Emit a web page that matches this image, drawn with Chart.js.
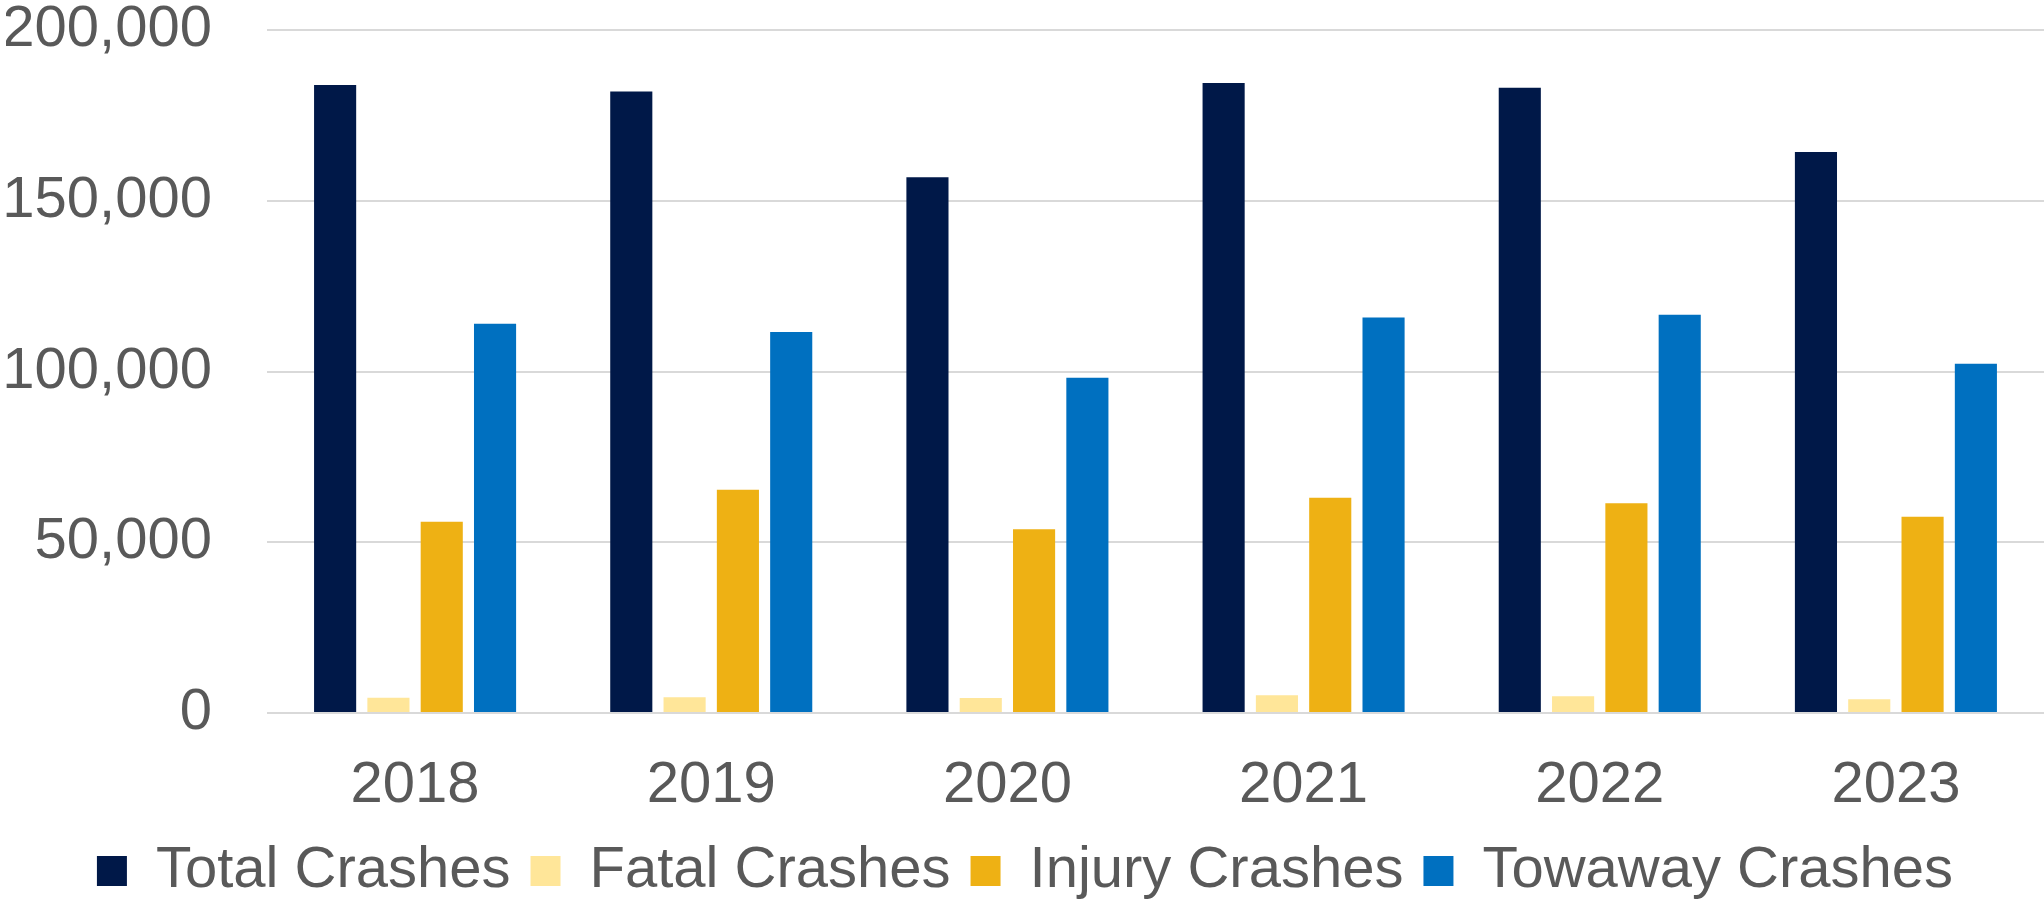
<!DOCTYPE html>
<html lang="en">
<head>
    <meta charset="UTF-8">
    <title>Crashes by Year</title>
    <script src="https://cdn.jsdelivr.net/npm/chart.js"></script>
    <style>
        body {
            margin: 0;
            background-color: #ffffff;
        }
        .chart-box {
            width: 2044px;
            height: 904px;
        }
    </style>
</head>
<body>
    <div class="chart-box">
        <canvas id="crashChart"></canvas>
    </div>
    <script>
        const years = ['2018', '2019', '2020', '2021', '2022', '2023'];
        const totalCrashes = [183900, 182000, 156900, 184500, 183100, 164300];
        const fatalCrashes = [4500, 4600, 4400, 5200, 4900, 4000];
        const injuryCrashes = [56000, 65400, 53800, 63000, 61400, 57500];
        const towawayCrashes = [114000, 111600, 98200, 115800, 116600, 102300];
        const yTicks = [0, 50000, 100000, 150000, 200000];

        const textColor = '#595959';
        const fontFamily = '"Liberation Sans", Arial, sans-serif';

        const ctx = document.getElementById('crashChart').getContext('2d');
        new Chart(ctx, {
            type: 'bar',
            data: {
                labels: years,
                datasets: [
                    { label: 'Total Crashes', data: totalCrashes, backgroundColor: '#001848' },
                    { label: 'Fatal Crashes', data: fatalCrashes, backgroundColor: '#FFE699' },
                    { label: 'Injury Crashes', data: injuryCrashes, backgroundColor: '#EEB114' },
                    { label: 'Towaway Crashes', data: towawayCrashes, backgroundColor: '#0070C0' }
                ]
            },
            options: {
                responsive: true,
                maintainAspectRatio: false,
                animation: false,
                categoryPercentage: 0.72,
                barPercentage: 0.79,
                layout: {
                    padding: { top: 30, left: 6, right: 0, bottom: -6 }
                },
                scales: {
                    x: {
                        grid: { display: false, drawTicks: false },
                        border: { display: false },
                        ticks: {
                            color: textColor,
                            padding: 38,
                            font: { family: fontFamily, size: 58 }
                        },
                        // fixed height so the legend sits where it does in the original
                        afterFit: (axis) => {
                            axis.height = 109;
                        }
                    },
                    y: {
                        min: yTicks[0],
                        max: yTicks[yTicks.length - 1],
                        afterBuildTicks: (axis) => {
                            axis.ticks = yTicks.map(v => ({ value: v }));
                        },
                        grid: {
                            color: '#d9d9d9',
                            lineWidth: 2,
                            drawTicks: false
                        },
                        border: { display: false },
                        ticks: {
                            color: textColor,
                            padding: 55,
                            font: { family: fontFamily, size: 58, lineHeight: 1.0 },
                            callback: (value) => value.toLocaleString('en-US')
                        },
                        afterFit: (axis) => {
                            axis.width = 261;
                            axis.paddingTop = 0;
                            axis.paddingBottom = 0;
                        }
                    }
                },
                plugins: {
                    legend: {
                        position: 'bottom',
                        labels: {
                            color: textColor,
                            boxWidth: 30,
                            boxHeight: 30,
                            padding: 20,
                            font: { family: fontFamily, size: 58 }
                        }
                    },
                    tooltip: { enabled: false }
                }
            }
        });
    </script>
</body>
</html>
